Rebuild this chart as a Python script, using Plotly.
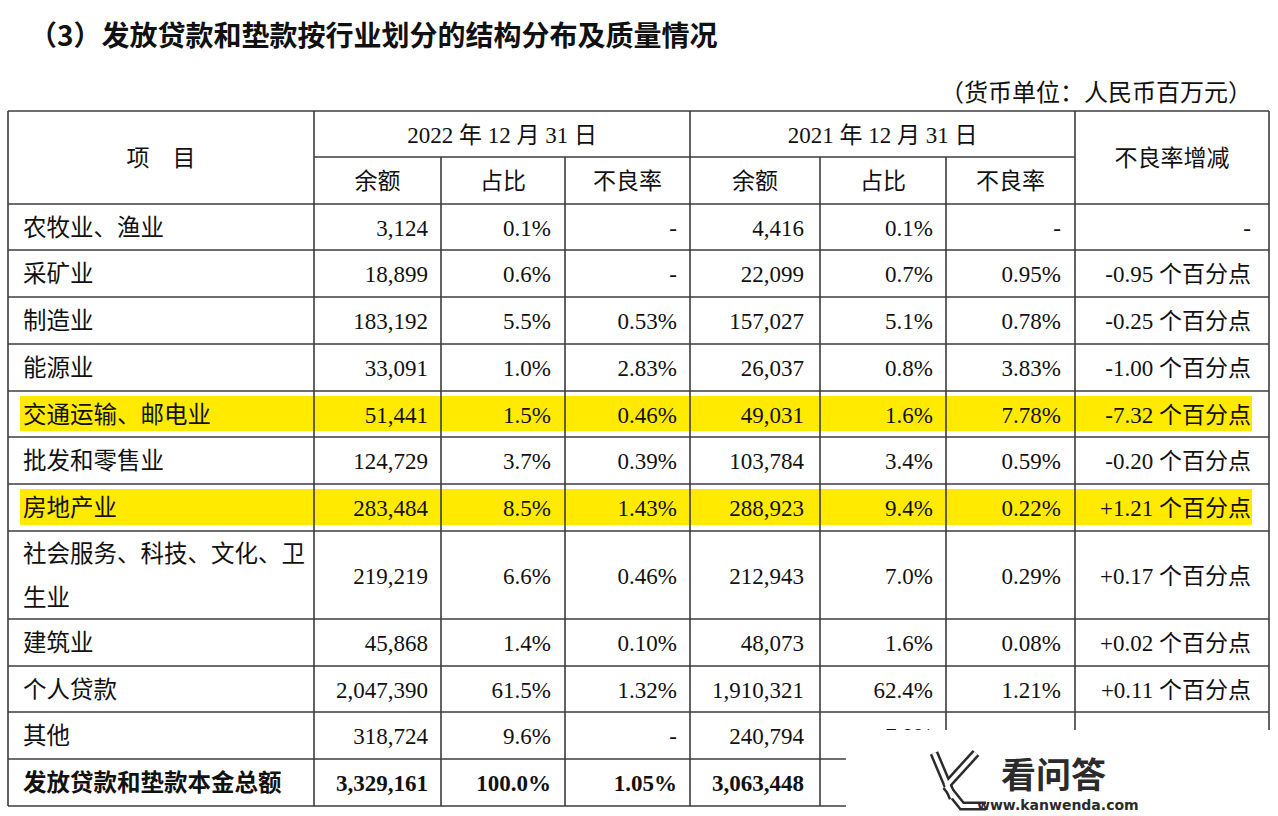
import plotly.graph_objects as go

# ---------------- data ----------------
industries = ["农牧业、渔业", "采矿业", "制造业", "能源业", "交通运输、邮电业", "批发和零售业",
              "房地产业", "社会服务、科技、文化、卫\n生业", "建筑业", "个人贷款", "其他"]
bal_2022 = [3124, 18899, 183192, 33091, 51441, 124729, 283484, 219219, 45868, 2047390, 318724]
share_2022 = [0.1, 0.6, 5.5, 1.0, 1.5, 3.7, 8.5, 6.6, 1.4, 61.5, 9.6]
npl_2022 = [None, None, 0.53, 2.83, 0.46, 0.39, 1.43, 0.46, 0.10, 1.32, None]
bal_2021 = [4416, 22099, 157027, 26037, 49031, 103784, 288923, 212943, 48073, 1910321, 240794]
share_2021 = [0.1, 0.7, 5.1, 0.8, 1.6, 3.4, 9.4, 7.0, 1.6, 62.4, 7.9]
npl_2021 = [None, 0.95, 0.78, 3.83, 7.78, 0.59, 0.22, 0.29, 0.08, 1.21, None]
npl_change = [None, -0.95, -0.25, -1.00, -7.32, -0.20, 1.21, 0.17, 0.02, 0.11, None]
highlighted = ["交通运输、邮电业", "房地产业"]

total_label = "发放贷款和垫款本金总额"
total_2022 = [3329161, 100.0, 1.05]
total_2021 = [3063448]

title = "（3）发放贷款和垫款按行业划分的结构分布及质量情况"
unit_note = "（货币单位：人民币百万元）"
item_header = "项　目"
date_headers = ["2022 年 12 月 31 日", "2021 年 12 月 31 日"]
sub_headers = ["余额", "占比", "不良率"]
change_header = "不良率增减"

# ---------------- layout geometry ----------------
W, H = 1278, 816
col_x = [8, 314, 441, 565, 690, 820, 946, 1075, 1269]
row_y = [111, 157, 204, 250, 297, 344, 391, 437, 484, 531, 619, 666, 712, 759, 806]
right_pad = [13, 14, 13, 16, 13, 14, 18]
DY = 3  # text baseline nudge

LINE = dict(color="#3c3c3c", width=1.6)
SERIF = "'Liberation Serif', 'Times New Roman', 'Noto Sans CJK SC', serif"
CJK = "'Noto Sans CJK SC', sans-serif"


def fmt_int(v):
    return "-" if v is None else f"{v:,}"


def fmt_pct(v, d):
    return "-" if v is None else f"{v:.{d}f}%"


def fmt_change(v):
    return "-" if v is None else f"{v:+.2f} 个百分点"


fig = go.Figure()
shapes = []

body_tops = row_y[2:-1]
body_bots = row_y[3:]
n = len(industries)

# highlight bands
for i, name in enumerate(industries):
    if name in highlighted:
        shapes.append(dict(type="rect", xref="x", yref="y", layer="below",
                           x0=20, x1=1252, y0=body_tops[i] + 5, y1=body_bots[i] - 6,
                           fillcolor="#FFEA00", line=dict(width=0)))

# grid lines
full_v = [col_x[0], col_x[1], col_x[4], col_x[7], col_x[8]]
part_v = [col_x[2], col_x[3], col_x[5], col_x[6]]
for x in full_v:
    shapes.append(dict(type="line", xref="x", yref="y", layer="below",
                       x0=x, x1=x, y0=row_y[0], y1=row_y[-1], line=LINE))
for x in part_v:
    shapes.append(dict(type="line", xref="x", yref="y", layer="below",
                       x0=x, x1=x, y0=row_y[1], y1=row_y[-1], line=LINE))
for j, y in enumerate(row_y):
    if j == 1:
        shapes.append(dict(type="line", xref="x", yref="y", layer="below",
                           x0=col_x[1], x1=col_x[7], y0=y, y1=y, line=LINE))
    else:
        shapes.append(dict(type="line", xref="x", yref="y", layer="below",
                           x0=col_x[0], x1=col_x[-1], y0=y, y1=y, line=LINE))

# white patch (bottom-right overlay in the source picture)
shapes.append(dict(type="rect", xref="x", yref="y", layer="above",
                   x0=846, x1=W + 5, y0=730, y1=H + 5,
                   fillcolor="white", line=dict(width=0)))
# rough outlined "K" mark of the overlay
for path in ["M 934 753 L 953 798", "M 976 753 L 946 786", "M 946 786 L 962 806 L 986 806"]:
    shapes.append(dict(type="path", xref="x", yref="y", layer="above", path=path,
                       line=dict(color="#2b2b2b", width=9)))
for path in ["M 934 753 L 953 798", "M 976 753 L 946 786", "M 946 786 L 962 806 L 986 806"]:
    shapes.append(dict(type="path", xref="x", yref="y", layer="above", path=path,
                       line=dict(color="white", width=4)))

centers = [(a + b) / 2 + DY for a, b in zip(body_tops, body_bots)]


def add_text(xs, ys, texts, pos, size, family, bold=False):
    fig.add_trace(go.Scatter(
        x=xs, y=ys, text=[f"<b>{t}</b>" if bold else t for t in texts],
        mode="text", textposition=pos, hoverinfo="skip", showlegend=False,
        textfont=dict(size=size, family=family, color="#111111")))


# header
add_text([(col_x[0] + col_x[1]) / 2], [(row_y[0] + row_y[2]) / 2 + DY], [item_header],
         "middle center", 23, CJK)
add_text([(col_x[1] + col_x[4]) / 2, (col_x[4] + col_x[7]) / 2],
         [(row_y[0] + row_y[1]) / 2 + DY] * 2, date_headers, "middle center", 23, SERIF)
sub_x = [(col_x[k] + col_x[k + 1]) / 2 for k in range(1, 7)]
add_text(sub_x, [(row_y[1] + row_y[2]) / 2 + DY] * 6, sub_headers * 2, "middle center", 23, CJK)
add_text([(col_x[7] + col_x[8]) / 2], [(row_y[0] + row_y[2]) / 2 + DY], [change_header],
         "middle center", 23, CJK)

# row labels
lx, ly, lt = [], [], []
for i, name in enumerate(industries):
    parts = name.split("\n")
    h = body_bots[i] - body_tops[i]
    for k, p in enumerate(parts):
        lx.append(23)
        ly.append(body_tops[i] + h * (k + 0.5) / len(parts) + DY)
        lt.append(p)
add_text(lx, ly, lt, "middle right", 23.5, CJK)

# numeric columns
cols = [
    [fmt_int(v) for v in bal_2022],
    [fmt_pct(v, 1) for v in share_2022],
    [fmt_pct(v, 2) for v in npl_2022],
    [fmt_int(v) for v in bal_2021],
    [fmt_pct(v, 1) for v in share_2021],
    [fmt_pct(v, 2) for v in npl_2021],
    [fmt_change(v) for v in npl_change],
]
for k, texts in enumerate(cols):
    xr = col_x[k + 2] - right_pad[k]
    add_text([xr] * n, centers, texts, "middle left", 23, SERIF)

# total row
ty = (row_y[-2] + row_y[-1]) / 2 + DY
add_text([23], [ty], [total_label], "middle right", 23.5, CJK, bold=True)
tot_vals = [fmt_int(total_2022[0]), fmt_pct(total_2022[1], 1), fmt_pct(total_2022[2], 2),
            fmt_int(total_2021[0])]
for k, t in enumerate(tot_vals):
    add_text([col_x[k + 2] - right_pad[k]], [ty], [t], "middle left", 23, SERIF, bold=True)

annotations = [
    dict(text=f"<b>{title}</b>", x=27, y=34, xref="x", yref="y", xanchor="left",
         yanchor="middle", showarrow=False, font=dict(size=28, family=CJK, color="#111111")),
    dict(text=unit_note, x=1254, y=90, xref="x", yref="y", xanchor="right",
         yanchor="middle", showarrow=False, font=dict(size=24, family=CJK, color="#111111")),
    dict(text="<b>看问答</b>", x=999, y=772, xref="x", yref="y", xanchor="left",
         yanchor="middle", showarrow=False, font=dict(size=35, family=CJK, color="#2b2b2b")),
    dict(text="<b>www.kanwenda.com</b>", x=975, y=805, xref="x", yref="y", xanchor="left",
         yanchor="middle", showarrow=False, font=dict(size=14, family="DejaVu Sans", color="#2b2b2b")),
]

fig.update_layout(
    width=W, height=H, autosize=False,
    margin=dict(l=0, r=0, t=0, b=0),
    paper_bgcolor="white", plot_bgcolor="white",
    xaxis=dict(range=[0, W], visible=False, fixedrange=True),
    yaxis=dict(range=[H, 0], visible=False, fixedrange=True),
    shapes=shapes, annotations=annotations, showlegend=False,
)

fig.write_html("out.html", config={"displayModeBar": False},
               post_script="document.body.style.margin='0';")
